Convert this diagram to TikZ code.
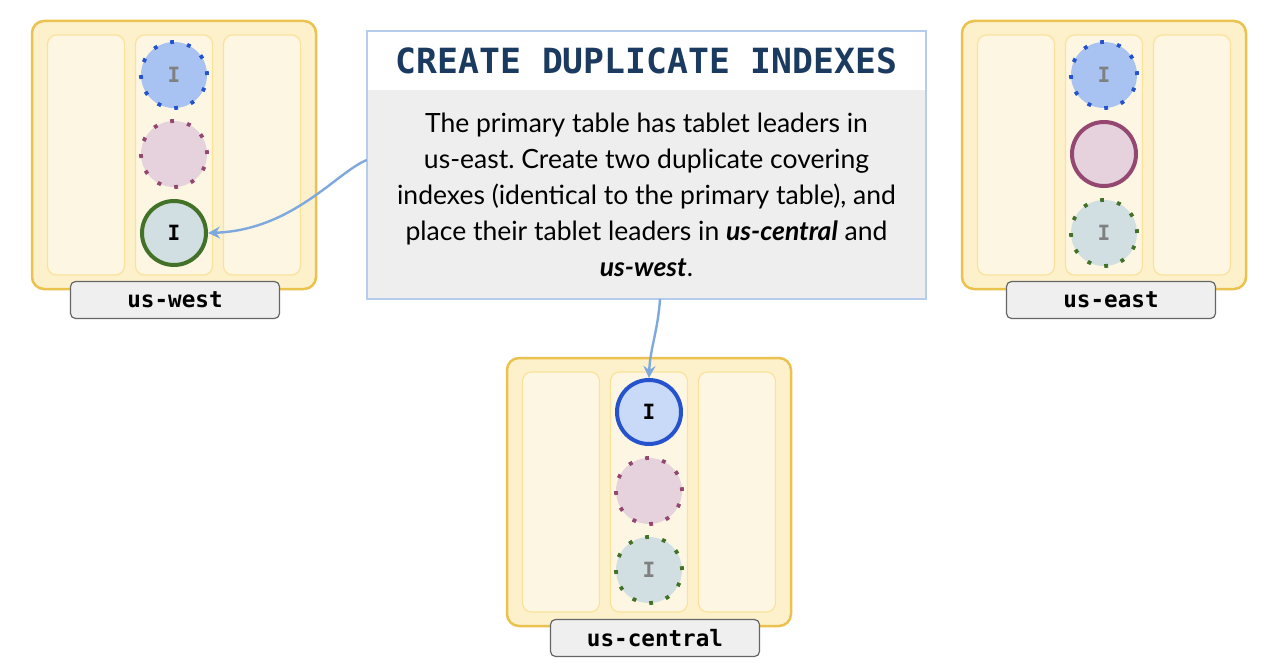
\documentclass[tikz,border=0pt]{standalone}
\usepackage{fontspec}
\setmainfont{Lato}
\newfontfamily\monofont{DejaVu Sans Mono}
\usetikzlibrary{positioning, arrows.meta, calc}

\definecolor{regionfill}{HTML}{FDF1CC}
\definecolor{regionline}{HTML}{EBC24E}
\definecolor{columnfill}{HTML}{FDF6E2}
\definecolor{columnline}{HTML}{FBE29C}
\definecolor{bluefill}{HTML}{A8C3F1}
\definecolor{bluelead}{HTML}{C9DAF8}
\definecolor{blueline}{HTML}{2553CE}
\definecolor{pinkfill}{HTML}{E6D2DC}
\definecolor{pinkline}{HTML}{944771}
\definecolor{greenfill}{HTML}{D1DEE2}
\definecolor{greenline}{HTML}{427228}
\definecolor{labelfill}{HTML}{EFEFEF}
\definecolor{labelline}{HTML}{666666}
\definecolor{calloutline}{HTML}{B5CCEC}
\definecolor{calloutband}{HTML}{EEEEEE}
\definecolor{titlecolor}{HTML}{1B3A5F}
\definecolor{arrowcolor}{HTML}{7EA9DE}

\begin{document}
\frenchspacing
\begin{tikzpicture}[
				x=1pt, y=-1pt,
				>={Stealth[length=12pt, width=12pt, inset=4pt]},
				region/.style={draw=regionline, fill=regionfill, line width=2.5pt, rounded corners=12pt, minimum width=284pt, minimum height=268pt, inner sep=0pt},
				column/.style={draw=columnline, fill=columnfill, line width=1.2pt, rounded corners=9pt, minimum width=77pt, minimum height=240pt, inner sep=0pt},
				lead/.style={circle, line width=4pt, minimum size=64pt, inner sep=0pt, font=\monofont\bfseries\fontsize{21pt}{21pt}\selectfont},
				follow/.style={circle, line width=3.8pt, dash pattern=on 3.8pt off 13.5pt, minimum size=66pt, inner sep=0pt, text=gray, font=\monofont\bfseries\fontsize{21pt}{21pt}\selectfont},
				regionlabel/.style={draw=labelline, fill=labelfill, line width=1.2pt, rounded corners=5pt, minimum width=209pt, minimum height=37pt, inner sep=0pt, font=\monofont\bfseries\fontsize{22.6pt}{22.6pt}\selectfont},
				arrow/.style={->, draw=arrowcolor, line width=2.4pt}
				]
				
				\useasboundingbox (0,0) rectangle (1280,671);
				
				% us-west
				\node[region] (west) at (174,155) {};
				\node[column] (westA) at (86,155) {};
				\node[column] (westB) at (174,155) {};
				\node[column] (westC) at (262,155) {};
				\node[follow, draw=blueline, fill=bluefill] (westBlue) at (174,75) {I};
				\node[follow, draw=pinkline, fill=pinkfill] (westPink) at (174,154) {};
				\node[lead, draw=greenline, fill=greenfill] (westGreen) at (174,233) {I};
				\node[regionlabel] (westLabel) at (175,300) {us-west};
				
				% us-east
				\node[region] (east) at (1104,155) {};
				\node[column] (eastA) at (1016,155) {};
				\node[column] (eastB) at (1104,155) {};
				\node[column] (eastC) at (1192,155) {};
				\node[follow, draw=blueline, fill=bluefill] (eastBlue) at (1104,75) {I};
				\node[lead, draw=pinkline, fill=pinkfill] (eastPink) at (1104,154) {};
				\node[follow, draw=greenline, fill=greenfill] (eastGreen) at (1104,233) {I};
				\node[regionlabel] (eastLabel) at (1111,300) {us-east};
				
				% us-central
				\node[region] (central) at (649,492) {};
				\node[column] (centralA) at (561,492) {};
				\node[column] (centralB) at (649,492) {};
				\node[column] (centralC) at (737,492) {};
				\node[lead, draw=blueline, fill=bluelead] (centralBlue) at (649,412) {I};
				\node[follow, draw=pinkline, fill=pinkfill] (centralPink) at (649,491) {};
				\node[follow, draw=greenline, fill=greenfill] (centralGreen) at (649,570) {I};
				\node[regionlabel] (centralLabel) at (655,638) {us-central};
				
				% Recuadro
				\node[fill=white, minimum width=559pt, minimum height=268pt, inner sep=0pt] (callout) at (646.5,165) {};
				\node[fill=calloutband, minimum width=559pt, minimum height=209pt, inner sep=0pt, align=center,
				font=\fontsize{26.5pt}{36pt}\selectfont] (body) at (646.5,195)
				{The primary table has tablet leaders in\\
					us-east. Create two duplicate covering\\
					indexes (identical to the primary table), and\\
					place their tablet leaders in \textbf{\textit{us-central}} and\\
					\textbf{\textit{us-west}}.};
				\node[text=titlecolor, font=\monofont\bfseries\fontsize{34.7pt}{34.7pt}\selectfont] (title) at (646.5,61) {CREATE DUPLICATE INDEXES};
				\draw[calloutline, line width=1.5pt] (callout.north west) rectangle (callout.south east);
				
				% Flechas
				\draw[arrow] ([yshift=5pt]callout.west) .. controls +(-30,12) and +(85,-3) .. (westGreen.east);
				\draw[arrow] ([xshift=13.5pt]callout.south) .. controls +(-2,31) and +(1,-29) .. (centralBlue.north);
				
			\end{tikzpicture}
\end{document}
